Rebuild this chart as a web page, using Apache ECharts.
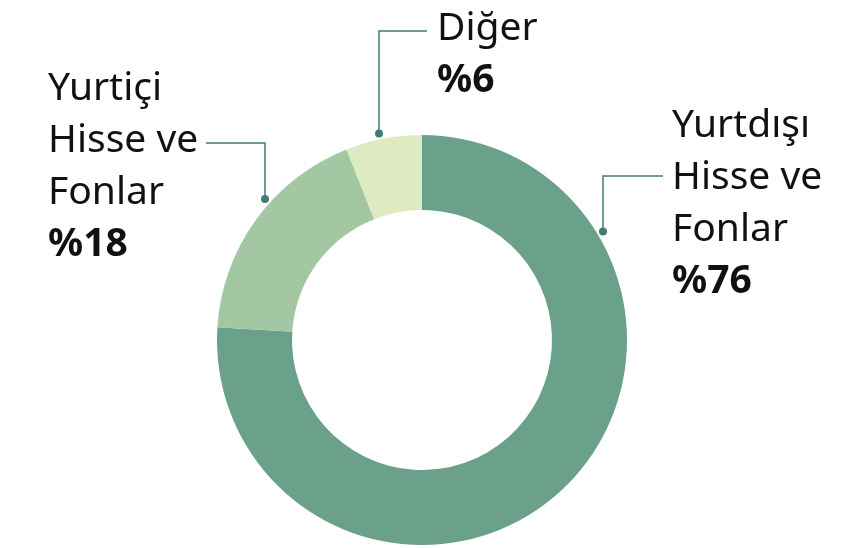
<!DOCTYPE html>
<html>
<head>
<meta charset="utf-8">
<script src="https://cdn.jsdelivr.net/npm/echarts@6/dist/echarts.min.js"></script>
<style>
    html, body { margin: 0; padding: 0; background: #fff; }
    #chart { width: 857px; height: 548px; }
</style>
</head>
<body>
<div id="chart"></div>
<script>
/* 数据 */
let names = ['Yurtdışı\nHisse ve\nFonlar', 'Yurtiçi\nHisse ve\nFonlar', 'Diğer'];
let values = [76, 18, 6];
let colors = ['#6ba08a', '#a3c6a3', '#deebc2'];

/* 版式 */
let cx = 422, cy = 340, rOut = 205, rIn = 130;
let dotR = rOut + 6;
let lineColor = '#3f7d73';
/* left, top of label block, elbow y, dot x, line end x */
let labelPos = [
    { x: 672, y: 100, lineY: 176, dotX: 603, endX: 663 },
    { x: 48, y: 63, lineY: 143, dotX: 265, endX: 206 },
    { x: 437, y: 3, lineY: 31, dotX: 379, endX: 427 }
];

let dotY = function (p) {
    let dx = p.dotX - cx;
    return cy - Math.sqrt(dotR * dotR - dx * dx);
};

let box = document.getElementById('chart');
let myChart = echarts.init(box);

let data = names.map(function (n, i) {
    return { name: n, value: values[i], itemStyle: { color: colors[i] } };
});

let options = {
    animation: false,
    textStyle: { fontFamily: 'Noto Sans' },
    graphic: labelPos.map(function (p) {
        return {
            type: 'circle',
            shape: { cx: p.dotX, cy: dotY(p), r: 4 },
            style: { fill: lineColor },
            z: 100
        };
    }),
    series: [
        {
            type: 'pie',
            center: [cx, cy],
            radius: [rIn, rOut],
            startAngle: 90,
            clockwise: true,
            avoidLabelOverlap: false,
            silent: true,
            emphasis: { disabled: true },
            data: data,
            label: {
                show: true,
                position: 'outside',
                formatter: function (params) {
                    let lines = params.name.split('\n').map(function (s) {
                        return '{n|' + s + '}';
                    });
                    return lines.join('\n') + '\n{p|%' + params.value + '}';
                },
                rich: {
                    n: { fontFamily: 'Noto Sans', fontSize: 39, lineHeight: 52, color: '#111' },
                    p: { fontFamily: 'Noto Sans', fontSize: 39, lineHeight: 52, fontWeight: 'bold', color: '#111' }
                }
            },
            labelLine: {
                show: true,
                lineStyle: { color: lineColor, width: 1.5 }
            },
            labelLayout: function (params) {
                let p = labelPos[params.dataIndex];
                return {
                    x: p.x,
                    y: p.y,
                    align: 'left',
                    verticalAlign: 'top',
                    labelLinePoints: [
                        [p.dotX, dotY(p)],
                        [p.dotX, p.lineY],
                        [p.endX, p.lineY]
                    ]
                };
            }
        }
    ]
};
myChart.setOption(options);
</script>
</body>
</html>
